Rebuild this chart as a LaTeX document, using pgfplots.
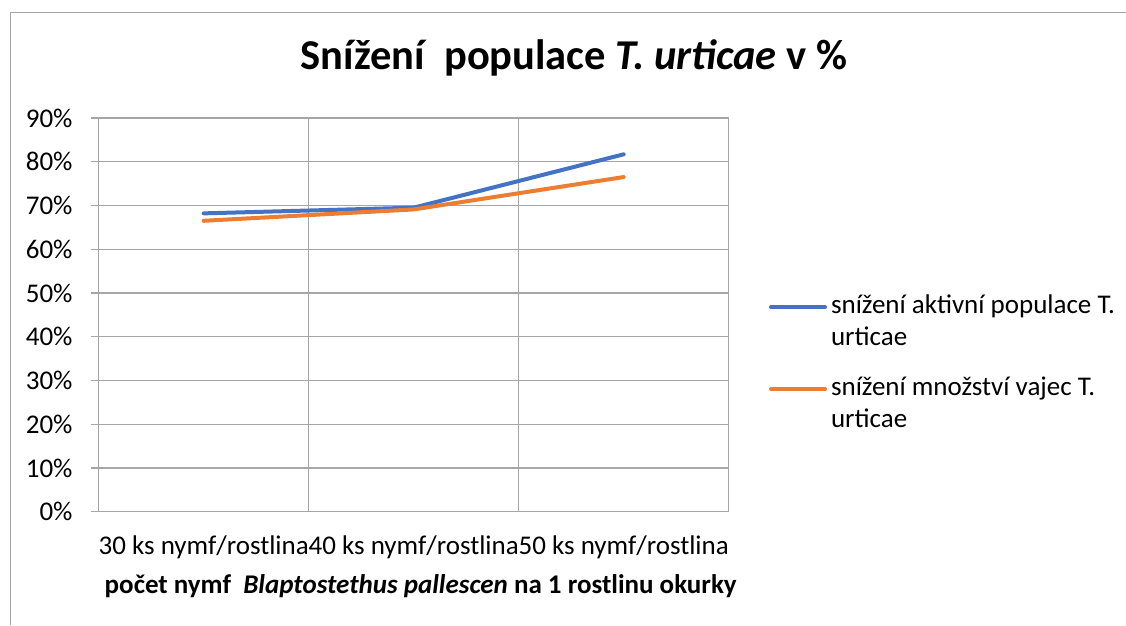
\documentclass[border=0pt]{standalone}
\usepackage{pgfplots}
\pgfplotsset{compat=1.18}
\usepackage{fontspec}
\setmainfont{Carlito}
\definecolor{cblue}{HTML}{4472C4}
\definecolor{corange}{HTML}{ED7D31}
\definecolor{cgrid}{HTML}{A6A6A6}
\begin{document}
\begin{tikzpicture}[x=1pt,y=1pt]
\useasboundingbox (0,0) rectangle (1126,625);
\draw[cgrid, line width=1.3pt] (10.7,0) -- (10.7,612.5) -- (1126,612.5);
\node[font=\fontsize{42.5}{46}\selectfont\bfseries, anchor=base, inner sep=0pt] at (574,555) {Snížení\ \ populace \textit{T. urticae} v \%};
\begin{axis}[
  at={(98.7pt,113.3pt)}, anchor=south west, scale only axis,
  width=630pt, height=393.7pt,
  xmin=-0.5, xmax=2.5, ymin=0, ymax=90,
  xtick={0,1,2},
  xticklabels={30 ks nymf/rostlina,40 ks nymf/rostlina,50 ks nymf/rostlina},
  extra x ticks={-0.5,0.5,1.5,2.5},
  extra x tick labels={},
  extra x tick style={grid=major, major tick length=7pt, tick style={cgrid, line width=1.3pt}},
  ytick={0,10,...,90},
  yticklabels={0\%,10\%,20\%,30\%,40\%,50\%,60\%,70\%,80\%,90\%},
  ymajorgrids,
  tick align=outside,
  tick pos=left,
  major tick length=8pt,
  xtick style={draw=none},
  ytick style={cgrid, line width=1.3pt},
  grid style={cgrid, line width=1.3pt},
  axis line style={cgrid, line width=1.3pt},
  ticklabel style={font=\fontsize{27}{32}\selectfont, text=black},
  xticklabel style={anchor=base, inner sep=0pt, yshift=-35pt},
  yticklabel style={anchor=east, inner sep=0pt, xshift=-18pt},
  xlabel={\bfseries počet nymf\ \ \textit{Blaptostethus pallescen} na 1 rostlinu okurky},
  xlabel style={at={(axis description cs:0.5,0)}, anchor=base, inner sep=0pt, yshift=-81.3pt, xshift=7pt, font=\fontsize{27}{32}\selectfont},
  legend style={at={(axis description cs:1.064,0.5504)}, anchor=north west, draw=none, fill=none,
    inner sep=0pt, outer sep=0pt, column sep=4pt, row sep=30pt,
    font=\fontsize{27}{32}\selectfont,
    cells={align=left},
    nodes={inner sep=0pt}},
  legend cell align=left,
  legend image code/.code={\draw[#1] (0pt,14pt) -- (54pt,14pt);},
]
\addplot[cblue, line width=4pt, line cap=round, line join=round] coordinates {(0,68.2) (1,69.5) (2,81.7)};
\addlegendentry{snížení aktivní populace T.\\urticae}
\addplot[corange, line width=4pt, line cap=round, line join=round] coordinates {(0,66.5) (1,69.1) (2,76.5)};
\addlegendentry{snížení množství vajec T.\\urticae}
\end{axis}
\end{tikzpicture}
\end{document}
